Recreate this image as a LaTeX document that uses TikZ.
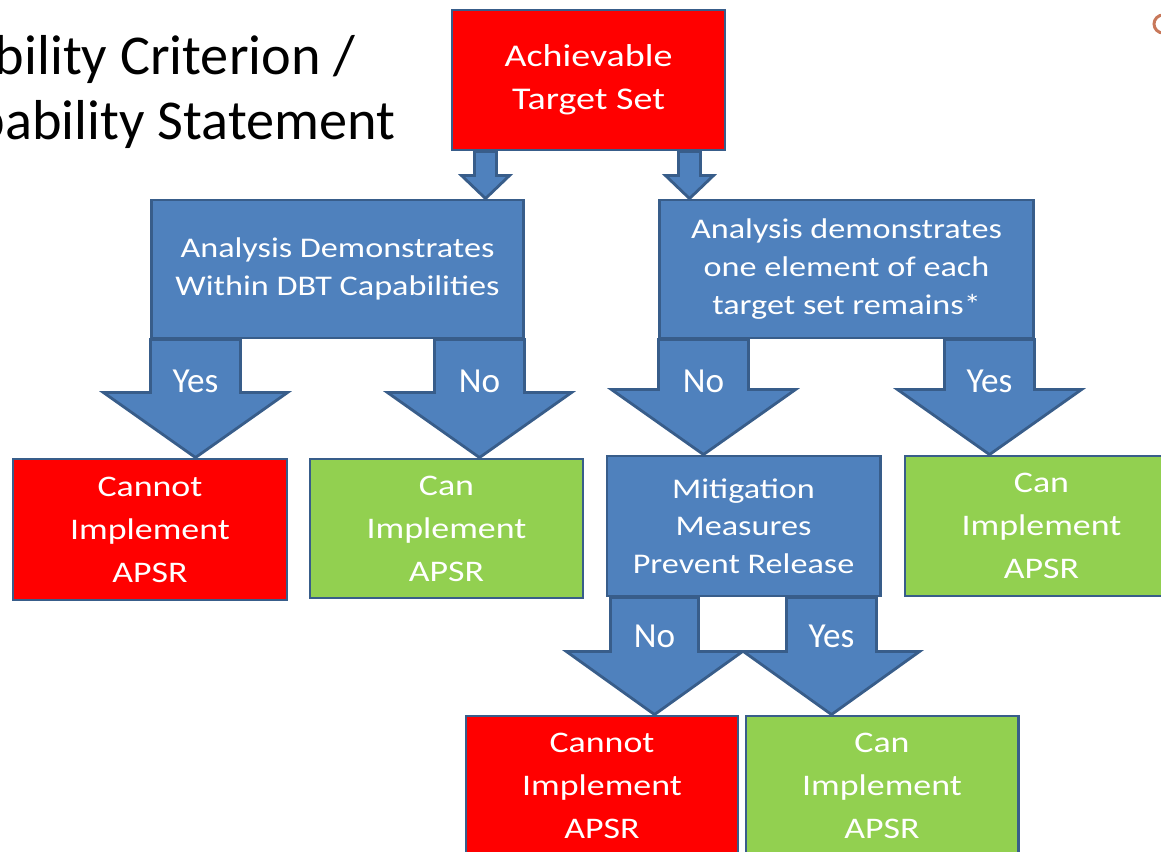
\documentclass[tikz,border=0pt]{standalone}
\usepackage{fontspec}
\setmainfont{Carlito}
\newfontfamily\boxfont[FakeStretch=1.2]{Carlito}
\usetikzlibrary{calc}

\definecolor{boxblue}{RGB}{79,129,189}
\definecolor{edgeblue}{RGB}{56,93,138}
\definecolor{boxred}{RGB}{255,0,0}
\definecolor{boxgreen}{RGB}{146,208,80}
\definecolor{markorange}{RGB}{200,120,90}

\tikzset{
  box/.style={draw=edgeblue, line width=0.8pt, inner sep=0pt, align=center, text=white},
  bluebox/.style={box, fill=boxblue, font=\boxfont\fontsize{8.1}{10.7}\selectfont},
  redbox/.style={box, fill=boxred, font=\boxfont\fontsize{8.5}{12.2}\selectfont},
  greenbox/.style={box, fill=boxgreen, font=\boxfont\fontsize{8.5}{12.2}\selectfont},
  arrowbox/.style={draw=edgeblue, line width=0.8pt, fill=boxblue, line join=miter},
  answer/.style={text=white, anchor=base, font=\fontsize{10}{12}\selectfont},
  heading/.style={anchor=base east, inner sep=0pt, font=\fontsize{16}{19}\selectfont},
}

% #1 shaft top, #2 target node, #3 shaft half width, #4 head half width, #5 head length
\newcommand{\blockarrow}[5]{%
  \path (#1) coordinate (s) (#1 |- #2.north) coordinate (e);
  \draw[arrowbox] ($(s)+(-#3,0)$) -- ($(e)+(-#3,-#5)$) -- ($(e)+(-#4,-#5)$) -- (e)
    -- ($(e)+(#4,-#5)$) -- ($(e)+(#3,-#5)$) -- ($(s)+(#3,0)$) -- cycle;
}

\begin{document}
\begin{tikzpicture}[x=0.01cm, y=-0.01cm]
                  \useasboundingbox (0,0) rectangle (1161,852);
                  \clip (0,0) rectangle (1161,852);

                  % Titulo
                  \node[heading] (tit1) at (356,75) {Capability Criterion /};
                  \node[heading] (tit2) at (396,140) {Capability Statement};
                  \draw[markorange, line width=0.85pt] (1163,33) arc[start angle=90, end angle=270, radius=9];

                  % Cajas
                  \node[redbox, minimum width=2.73cm, minimum height=1.40cm,
                        font=\boxfont\fontsize{9}{12.2}\selectfont] (T) at (588.5,80) {Achievable\\Target Set};
                  \node[bluebox, minimum width=3.71cm, minimum height=1.38cm] (D1) at (337.5,269)
                      {Analysis Demonstrates\\Within DBT Capabilities};
                  \node[bluebox, minimum width=3.73cm, minimum height=1.38cm] (D2) at (846.5,269)
                      {Analysis demonstrates\\one element of each\\target set remains*};

                  \node[redbox, minimum width=2.74cm, minimum height=1.41cm] (N1) at (150,529.5) {Cannot\\Implement\\APSR};
                  \node[greenbox, minimum width=2.73cm, minimum height=1.39cm] (Y1) at (446.5,528.5) {Can\\Implement\\APSR};
                  \node[bluebox, minimum width=2.73cm, minimum height=1.40cm] (M) at (743.5,526)
                      {Mitigation\\Measures\\Prevent Release};
                  \node[greenbox, minimum width=2.73cm, minimum height=1.40cm] (Y2) at (1041.5,526) {Can\\Implement\\APSR};

                  \node[redbox, minimum width=2.72cm, minimum height=1.40cm] (N3) at (602,786) {Cannot\\Implement\\APSR};
                  \node[greenbox, minimum width=2.72cm, minimum height=1.40cm] (Y3) at (882,786) {Can\\Implement\\APSR};

                  % Flechas
                  \coordinate (t1) at ($(T.south west)+(35,0)$);
                  \coordinate (t2) at ($(T.south east)+(-37,0)$);
                  \coordinate (a1) at ($(D1.south west)+(45,0)$);
                  \coordinate (a2) at ($(D1.south east)+(-45,0)$);
                  \coordinate (a3) at ($(D2.south west)+(45,0)$);
                  \coordinate (a4) at ($(D2.south east)+(-45,0)$);
                  \coordinate (a5) at ($(M.south west)+(49,0)$);
                  \coordinate (a6) at ($(M.south east)+(-50,0)$);

                  \blockarrow{t1}{D1}{11}{24}{23}
                  \blockarrow{t2}{D2}{11}{24}{23}
                  \blockarrow{a1}{N1}{45}{92}{65}
                  \blockarrow{a2}{Y1}{45}{92}{65}
                  \blockarrow{a3}{M}{45}{92}{65}
                  \blockarrow{a4}{Y2}{45}{92}{65}
                  \blockarrow{a5}{N3}{44}{88}{63}
                  \blockarrow{a6}{Y3}{45}{88}{63}

                  \node[answer] (l1) at ($(a1)+(0,53)$) {Yes};
                  \node[answer] (l2) at ($(a2)+(0,53)$) {No};
                  \node[answer] (l3) at ($(a3)+(0,53)$) {No};
                  \node[answer] (l4) at ($(a4)+(0,53)$) {Yes};
                  \node[answer] (l5) at ($(a5)+(0,50)$) {No};
                  \node[answer] (l6) at ($(a6)+(0,50)$) {Yes};
              \end{tikzpicture}
\end{document}
